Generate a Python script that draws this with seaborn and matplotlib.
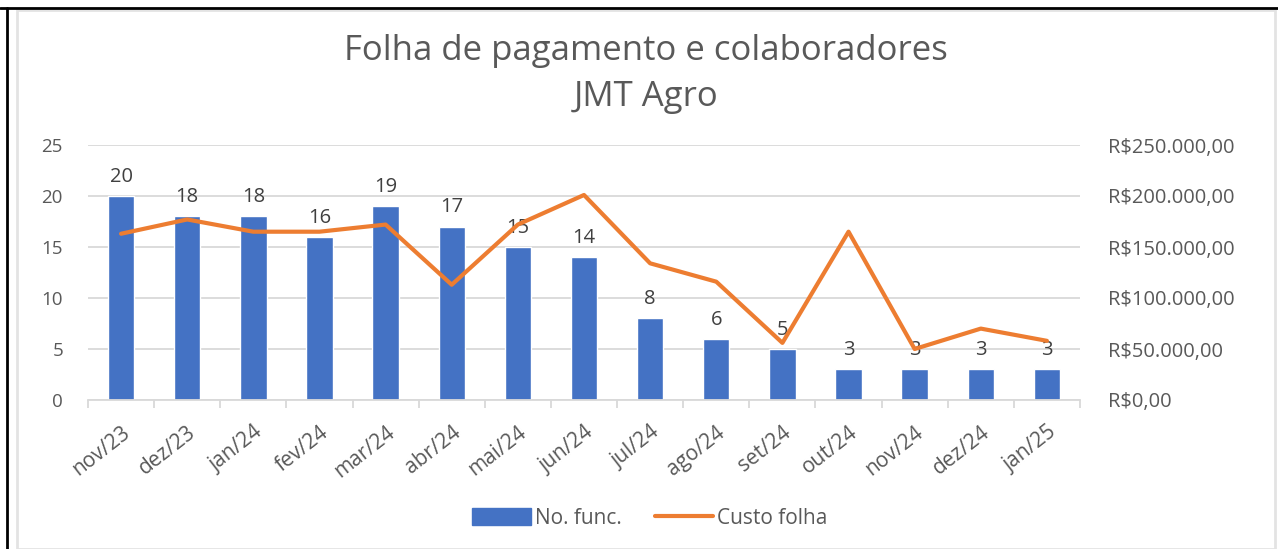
import numpy as np
import pandas as pd
import matplotlib
matplotlib.use("Agg")
import matplotlib.pyplot as plt
import seaborn as sns
from matplotlib.ticker import FuncFormatter, FixedLocator
from matplotlib.lines import Line2D
from matplotlib.patches import Patch, Rectangle

# dados
meses = ['nov/23', 'dez/23', 'jan/24', 'fev/24', 'mar/24', 'abr/24', 'mai/24', 'jun/24',
         'jul/24', 'ago/24', 'set/24', 'out/24', 'nov/24', 'dez/24', 'jan/25']
n_func = [20, 18, 18, 16, 19, 17, 15, 14, 8, 6, 5, 3, 3, 3, 3]
custo_folha = [163000, 177000, 165000, 165000, 172000, 113000, 172000, 201000,
               134000, 116000, 56000, 165000, 50000, 70000, 58000]

df = pd.DataFrame({'mes': meses, 'func': n_func, 'custo': custo_folha})
df['pos'] = np.arange(len(df))

sns.set_theme(style='white')
plt.rcParams['font.family'] = ['Open Sans', 'DejaVu Sans']

azul = '#4472C4'
laranja = '#ED7D31'
cinza = '#595959'

fig = plt.figure(figsize=(12.78, 5.49), dpi=100)
ax = fig.add_axes([88 / 1278, 1 - 400 / 549, (1080 - 88) / 1278, (400 - 145) / 549])

sns.barplot(data=df, x='mes', y='func', color=azul, width=0.4, saturation=1, ax=ax, zorder=2)
ax.set_ylim(0, 25)
ax.set_yticks([0, 5, 10, 15, 20, 25])
ax.grid(axis='y', color='#D9D9D9', linewidth=1.3, zorder=0)
ax.set_axisbelow(True)
ax.set_xlim(-0.5, len(meses) - 0.5)
ax.set_xlabel('')
ax.set_ylabel('')
for s in ['top', 'left', 'right']:
    ax.spines[s].set_visible(False)
ax.spines['bottom'].set_color('#D9D9D9')
ax.spines['bottom'].set_linewidth(1.3)

# rótulos das barras
for p, v in zip(df['pos'], df['func']):
    ax.text(p, v + 0.9, str(v), ha='center', va='bottom', fontsize=14.5, color='#404040', zorder=5)

ax.set_xticks(df['pos'])
ax.set_xticklabels(meses, rotation=38, ha='right', va='top', rotation_mode='anchor',
                   fontsize=15, color=cinza)
ax.tick_params(axis='x', length=0, pad=16)
ax.xaxis.set_minor_locator(FixedLocator(np.arange(-0.5, len(meses), 1)))
ax.tick_params(axis='x', which='minor', length=6, color='#D9D9D9', width=1.3, direction='out', bottom=True)
ax.tick_params(axis='y', length=0, labelsize=13.5, labelcolor=cinza, pad=18)

ax2 = ax.twinx()
sns.lineplot(data=df, x='pos', y='custo', color=laranja, linewidth=3, sort=False, ax=ax2, zorder=3)
ax2.set_ylim(0, 250000)
ax2.set_yticks([0, 50000, 100000, 150000, 200000, 250000])
ax2.yaxis.set_major_formatter(FuncFormatter(
    lambda v, _: 'R$' + f'{v:,.2f}'.replace(',', 'X').replace('.', ',').replace('X', '.')))
ax2.tick_params(axis='y', length=0, labelsize=14.5, labelcolor=cinza, pad=20)
ax2.set_ylabel('')
ax2.set_xlabel('')
for s in ax2.spines.values():
    s.set_visible(False)
ax2.set_xlim(-0.5, len(meses) - 0.5)

# título
fig.text(0.5055, 1 - 51 / 549, 'Folha de pagamento e colaboradores', ha='center', va='center',
         fontsize=25, color=cinza)
fig.text(0.5055, 1 - 97 / 549, 'JMT Agro', ha='center', va='center', fontsize=25, color=cinza)

# legenda
handles = [Patch(facecolor=azul, edgecolor=azul),
           Line2D([0], [0], color=laranja, linewidth=3)]
fig.legend(handles, ['No. func.', 'Custo folha'], loc='center', bbox_to_anchor=(650 / 1278, 1 - 518 / 549),
           ncol=2, frameon=False, fontsize=15, labelcolor=cinza, handlelength=2.8, handleheight=0.9,
           handletextpad=0.2, columnspacing=1.6)

# molduras
fig.add_artist(Rectangle((17 / 1278, 0), (1275 - 17) / 1278, 1 - 10 / 549, transform=fig.transFigure,
                         fill=False, edgecolor='#E3E3E3', linewidth=2))
fig.add_artist(Line2D([0, 1], [1 - 7.5 / 549, 1 - 7.5 / 549], transform=fig.transFigure, color='black', linewidth=2))
fig.add_artist(Line2D([6.5 / 1278, 6.5 / 1278], [0, 1 - 7.5 / 549], transform=fig.transFigure, color='black', linewidth=2))

fig.savefig('out.png', dpi=100, facecolor='white')
